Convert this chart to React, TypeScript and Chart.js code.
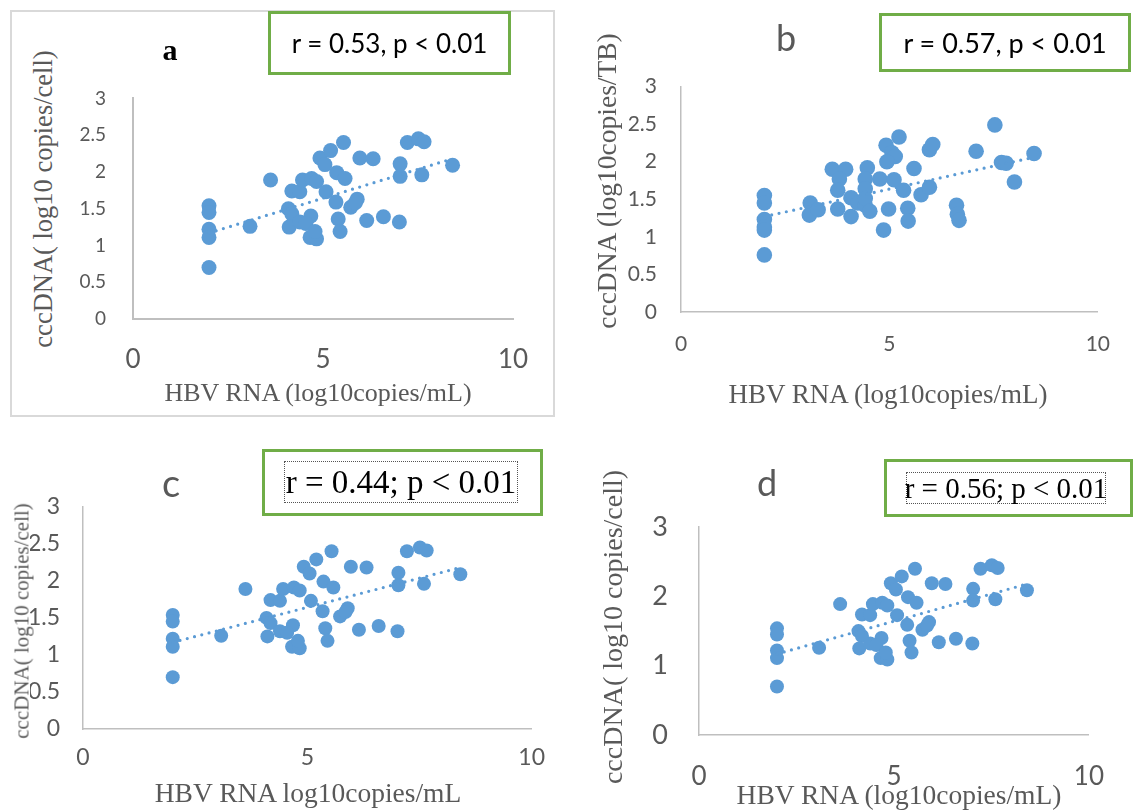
import React, { useEffect, useRef } from "react";
import { Chart, registerables } from "chart.js";

Chart.register(...registerables);

// ---------- DATA ----------
// HBV RNA (log10 copies/mL) and cccDNA values, panels a, c and d (same cohort)
const xA = [2, 2, 2, 2, 2, 3.08, 3.62, 4.09, 4.18, 4.11, 4.18, 4.39, 4.46, 4.7, 4.83, 4.39, 4.68, 4.55, 4.66, 4.83, 4.79, 4.92, 5.05, 5.2, 5.54, 5.08, 5.36, 5.58, 5.34, 5.4, 5.45, 5.73, 5.9, 5.85, 5.97, 6.32, 6.15, 6.59, 7.01, 7.03, 7.03, 7.22, 7.51, 7.66, 7.6, 8.41];
const yA = [1.54, 1.45, 1.22, 1.11, 0.7, 1.26, 1.89, 1.5, 1.43, 1.25, 1.74, 1.73, 1.89, 1.91, 1.87, 1.32, 1.4, 1.3, 1.11, 1.09, 1.19, 2.19, 2.1, 2.29, 2.4, 1.73, 1.99, 1.91, 1.59, 1.36, 1.19, 1.52, 1.63, 1.58, 2.19, 2.18, 1.34, 1.39, 1.32, 2.11, 1.94, 2.4, 2.45, 2.41, 1.96, 2.09];
// panel b (log10 copies/TB)
const xB = [2, 2, 2, 2, 2, 2, 3.1, 3.08, 3.29, 3.63, 3.95, 3.8, 3.76, 3.76, 4.08, 4.08, 4.24, 4.42, 4.47, 4.42, 4.42, 4.42, 4.53, 4.77, 5.11, 4.98, 4.86, 4.92, 5.06, 5.14, 4.94, 5.23, 5.34, 5.44, 5.45, 5.59, 5.76, 5.96, 5.96, 6.04, 6.61, 6.63, 6.67, 7.08, 7.53, 7.69, 7.8, 8.0, 8.47];
const yB = [1.55, 1.45, 1.23, 1.13, 1.09, 0.76, 1.45, 1.29, 1.36, 1.9, 1.9, 1.77, 1.62, 1.37, 1.27, 1.52, 1.45, 1.42, 1.92, 1.77, 1.64, 1.51, 1.34, 1.77, 1.76, 1.37, 1.09, 2.22, 2.12, 2.07, 2.0, 2.33, 1.62, 1.38, 1.21, 1.91, 1.56, 1.66, 2.16, 2.23, 1.42, 1.3, 1.22, 2.14, 2.49, 1.99, 1.98, 1.73, 2.11];
// linear trend lines (end points)
const trendAX = [2, 8.41];
const trendAY = [1.17, 2.18];
const trendBX = [2, 8.47];
const trendBY = [1.27, 2.06];
// ticks
const xTicks = [0, 5, 10];
const yTicksHalf = [0, 0.5, 1, 1.5, 2, 2.5, 3];
const yTicksWhole = [0, 1, 2, 3];
// texts
const panelLabels = ["a", "b", "c", "d"];
const statTexts = ["r = 0.53, p < 0.01", "r = 0.57, p < 0.01", "r = 0.44; p < 0.01", "r = 0.56; p < 0.01"];
const xTitles = ["HBV RNA (log10copies/mL)", "HBV RNA (log10copies/mL)", "HBV RNA log10copies/mL", "HBV RNA (log10copies/mL)"];
const yTitles = ["cccDNA( log10 copies/cell)", "cccDNA (log10copies/TB)", "cccDNA( log10 copies/cell)", "cccDNA( log10 copies/cell)"];

// ---------- STYLE ----------
const BLUE = "#5B9BD5";
const GREY_TXT = "#595959";
const AXIS = "#BFBFBF";
const GREEN = "#70AD47";
const SANS = "Lato, 'Noto Sans', 'Liberation Sans', sans-serif";
const SERIF = "'Liberation Serif', 'Times New Roman', serif";

type PanelCfg = {
  xs: number[]; ys: number[]; tx: number[]; ty: number[]; yTicks: number[];
  canvas: { x: number; y: number; w: number; h: number };
  plot: { l: number; r: number; t: number; b: number };
  yFont: number; xFont: number; yPad: number; xPad: number; radius: number; axisW: number;
};

const panels: PanelCfg[] = [
  { xs: xA, ys: yA, tx: trendAX, ty: trendAY, yTicks: yTicksHalf,
    canvas: { x: 60, y: 60, w: 500, h: 345 }, plot: { l: 133, r: 513, t: 87, b: 319 },
    yFont: 19, xFont: 26, yPad: 27, xPad: 25, radius: 7.5, axisW: 2 },
  { xs: xB, ys: yB, tx: trendBX, ty: trendBY, yTicks: yTicksHalf,
    canvas: { x: 620, y: 50, w: 510, h: 310 }, plot: { l: 681, r: 1106, t: 82, b: 312 },
    yFont: 21, xFont: 21, yPad: 24, xPad: 20, radius: 7.8, axisW: 1.5 },
  { xs: xA, ys: yA, tx: trendAX, ty: trendAY, yTicks: yTicksHalf,
    canvas: { x: 30, y: 470, w: 530, h: 310 }, plot: { l: 83, r: 533, t: 499, b: 729 },
    yFont: 23, xFont: 23, yPad: 23, xPad: 15, radius: 7, axisW: 1.5 },
  { xs: xA, ys: yA, tx: trendAX, ty: trendAY, yTicks: yTicksWhole,
    canvas: { x: 640, y: 480, w: 490, h: 320 }, plot: { l: 699, r: 1105, t: 516, b: 735 },
    yFont: 27, xFont: 26, yPad: 31, xPad: 26, radius: 7, axisW: 1.5 },
];

function ScatterPanel({ cfg }: { cfg: PanelCfg }) {
  const ref = useRef<HTMLCanvasElement | null>(null);
  useEffect(() => {
    if (!ref.current) return;
    const { canvas, plot } = cfg;
    const padTop = plot.t - canvas.y;
    const padRight = canvas.x + canvas.w - plot.r;
    const yWidth = plot.l - canvas.x;
    const xHeight = canvas.y + canvas.h - plot.b;
    const points = cfg.xs.map((x, i) => ({ x, y: cfg.ys[i] }));
    const trend = cfg.tx.map((x, i) => ({ x, y: cfg.ty[i] }));
    const chart = new Chart(ref.current, {
      type: "scatter",
      data: {
        datasets: [
          {
            data: trend,
            showLine: true,
            borderColor: BLUE,
            borderWidth: 3.2,
            borderDash: [0, 7.5],
            borderCapStyle: "round",
            pointRadius: 0,
            fill: false,
          } as any,
          {
            data: points,
            backgroundColor: BLUE,
            borderColor: BLUE,
            borderWidth: 0,
            pointRadius: cfg.radius,
          },
        ],
      },
      options: {
        responsive: false,
        animation: false,
        events: [],
        layout: { padding: { left: 0, top: padTop, right: padRight, bottom: 0 } },
        plugins: { legend: { display: false }, tooltip: { enabled: false } },
        scales: {
          x: {
            type: "linear",
            min: 0,
            max: 10,
            grid: { display: false, drawTicks: false },
            border: { display: true, color: AXIS, width: cfg.axisW },
            ticks: {
              padding: cfg.xPad,
              color: GREY_TXT,
              font: { family: SANS, size: cfg.xFont },
              callback: (v: any) => String(v),
            },
            afterBuildTicks: (s: any) => {
              s.ticks = xTicks.map((v) => ({ value: v }));
            },
            afterFit: (s: any) => {
              s.height = xHeight;
            },
          },
          y: {
            type: "linear",
            min: 0,
            max: 3,
            grid: { display: false, drawTicks: false },
            border: { display: true, color: AXIS, width: cfg.axisW },
            ticks: {
              padding: cfg.yPad,
              color: GREY_TXT,
              font: { family: SANS, size: cfg.yFont },
              callback: (v: any) => String(v),
            },
            afterBuildTicks: (s: any) => {
              s.ticks = cfg.yTicks.map((v) => ({ value: v }));
            },
            afterFit: (s: any) => {
              s.width = yWidth;
            },
          },
        },
      } as any,
    });
    return () => chart.destroy();
  }, [cfg]);
  return (
    <canvas
      ref={ref}
      width={cfg.canvas.w}
      height={cfg.canvas.h}
      style={{ position: "absolute", left: cfg.canvas.x, top: cfg.canvas.y, width: cfg.canvas.w, height: cfg.canvas.h }}
    />
  );
}

function Txt({ x, y, children, style, rotate }: { x: number; y: number; children: React.ReactNode; style?: React.CSSProperties; rotate?: boolean }) {
  return (
    <div
      style={{
        position: "absolute",
        left: x,
        top: y,
        transform: `translate(-50%, -50%)${rotate ? " rotate(-90deg)" : ""}`,
        whiteSpace: "nowrap",
        lineHeight: 1,
        ...style,
      }}
    >
      {children}
    </div>
  );
}

function Box({ x, y, w, h, style, children }: { x: number; y: number; w: number; h: number; style?: React.CSSProperties; children?: React.ReactNode }) {
  return (
    <div
      style={{
        position: "absolute",
        left: x,
        top: y,
        width: w,
        height: h,
        boxSizing: "border-box",
        display: "flex",
        alignItems: "center",
        justifyContent: "center",
        whiteSpace: "nowrap",
        ...style,
      }}
    >
      {children}
    </div>
  );
}

export default function App() {
  const xTitleStyle: React.CSSProperties = { fontFamily: SERIF, color: GREY_TXT };
  return (
    <div style={{ position: "absolute", left: 0, top: 0, width: 1133, height: 810, background: "#fff", overflow: "hidden" }}>
      {/* panel a frame */}
      <Box x={10} y={10} w={545} h={407} style={{ border: "2px solid #D9D9D9" }} />

      {panels.map((p, i) => (
        <ScatterPanel key={i} cfg={p} />
      ))}

      {/* panel a texts */}
      <Txt x={170} y={50} style={{ fontFamily: SERIF, fontWeight: "bold", fontSize: 30, color: "#000" }}>{panelLabels[0]}</Txt>
      <Box x={268} y={11} w={243} h={64} style={{ border: `3px solid ${GREEN}`, fontFamily: SANS, fontSize: 26, color: "#000" }}>{statTexts[0]}</Box>
      <Txt x={318} y={393} style={{ ...xTitleStyle, fontSize: 26 }}>{xTitles[0]}</Txt>
      <Txt x={43} y={199} rotate style={{ ...xTitleStyle, fontSize: 26.5 }}>{yTitles[0]}</Txt>

      {/* panel b texts */}
      <Txt x={786} y={37} style={{ fontFamily: SANS, fontSize: 36, color: GREY_TXT }}>{panelLabels[1]}</Txt>
      <Box x={879} y={13} w={252} h={59} style={{ border: `3px solid ${GREEN}`, fontFamily: SANS, fontSize: 27, color: "#000" }}>{statTexts[1]}</Box>
      <Txt x={888} y={394} style={{ ...xTitleStyle, fontSize: 27 }}>{xTitles[1]}</Txt>
      <Txt x={607} y={181} rotate style={{ ...xTitleStyle, fontSize: 27.5 }}>{yTitles[1]}</Txt>

      {/* panel c texts */}
      <Txt x={171} y={482} style={{ fontFamily: SANS, fontSize: 38, color: GREY_TXT }}>{panelLabels[2]}</Txt>
      <Box x={262} y={449} w={281} h={67} style={{ border: `3px solid ${GREEN}` }} />
      <Box x={284} y={461} w={234} h={42} style={{ border: "1px dotted #555", fontFamily: SERIF, fontSize: 33, color: "#000" }}>{statTexts[2]}</Box>
      <Txt x={308} y={793} style={{ ...xTitleStyle, fontSize: 27.5 }}>{xTitles[2]}</Txt>
      <Txt x={22} y={621} rotate style={{ ...xTitleStyle, fontSize: 21 }}>{yTitles[2]}</Txt>

      {/* panel d texts */}
      <Txt x={767} y={482} style={{ fontFamily: SANS, fontSize: 36, color: GREY_TXT }}>{panelLabels[3]}</Txt>
      <Box x={884} y={459} w={249} h={58} style={{ border: `3px solid ${GREEN}` }} />
      <Box x={906} y={472} w={200} h={32} style={{ border: "1px dotted #555", fontFamily: SERIF, fontSize: 29, color: "#000" }}>{statTexts[3]}</Box>
      <Txt x={899} y={795} style={{ ...xTitleStyle, fontSize: 27.5 }}>{xTitles[3]}</Txt>
      <Txt x={613} y={627} rotate style={{ ...xTitleStyle, fontSize: 28 }}>{yTitles[3]}</Txt>
    </div>
  );
}
